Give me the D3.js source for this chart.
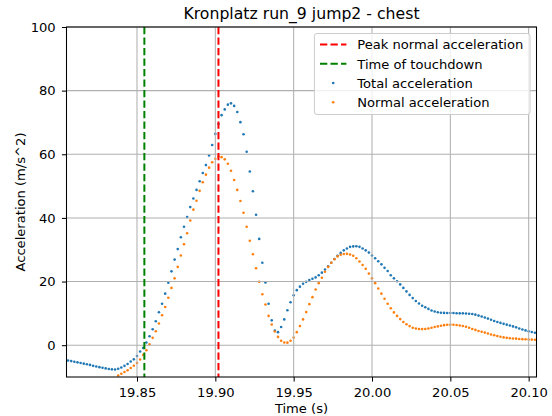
<!DOCTYPE html>
<html>
<head>
<meta charset="utf-8">
<script src="https://cdn.jsdelivr.net/npm/d3@7/dist/d3.min.js"></script>
<style>
  html, body { margin: 0; padding: 0; background: #ffffff; }
  svg { display: block; }
  text { font-family: "DejaVu Sans", sans-serif; fill: #000; }
</style>
</head>
<body>
<script>
// Chest sensor, Kronplatz run 9, jump 2 — sampled at 500 Hz
const startTime = 19.806;
const sampleRate = 500;

// Total acceleration magnitude (m/s^2)
const totalAcc = [
  -4.8, -5.0, -5.2, -5.4, -5.6, -5.8, -6.0, -6.2, -6.5, -6.7,
  -6.9, -7.1, -7.3, -7.5, -7.6, -7.65, -7.4, -7.0, -6.5, -5.9,
  -5.15, -4.45, -3.4, -2.0, -0.85, 0.85, 2.8, 5.0, 7.5, 10.35,
  13.0, 16.2, 19.6, 23.2, 26.9, 30.2, 33.9, 37.2, 40.3, 43.4,
  46.1, 48.8, 51.5, 54.1, 56.6, 59.6, 62.9, 66.4, 69.5, 72.3,
  74.1, 75.6, 76.0, 75.2, 73.3, 70.1, 66.3, 60.8, 54.6, 48.4,
  41.0, 33.4, 25.9, 19.7, 13.0, 7.8, 4.6, 4.1, 5.7, 8.1,
  11.0, 13.5, 15.7, 17.3, 18.4, 19.3, 19.9, 20.5, 20.9, 21.3,
  22.0, 22.8, 23.8, 24.8, 25.9, 27.1, 28.1, 29.0, 29.8, 30.4,
  30.9, 31.05, 31.1, 30.9, 30.4, 29.8, 29.1, 28.2, 27.3, 26.4,
  25.4, 24.3, 23.3, 22.0, 21.0, 20.1, 19.1, 18.0, 16.9, 15.8,
  14.8, 13.9, 13.1, 12.4, 11.9, 11.4, 10.9, 10.6, 10.35, 10.2,
  10.15, 10.1, 10.1, 10.1, 10.05, 10.0, 10.0, 9.95, 9.9, 9.8,
  9.6, 9.3, 9.0, 8.7, 8.35, 8.0, 7.6, 7.3, 7.0, 6.7,
  6.45, 6.2, 5.9, 5.6, 5.25, 4.95, 4.65, 4.4, 4.15, 3.9
];

// Normal acceleration component (m/s^2)
const normalAcc = [
  -15.8, -16.0, -16.1, -16.1, -16.0, -15.8, -15.5, -15.1, -14.6, -14.0,
  -13.4, -12.8, -12.1, -11.5, -10.9, -10.4, -9.55, -9.0, -8.45, -7.9,
  -7.15, -6.45, -5.6, -4.5, -3.05, -1.6, 0.3, 2.3, 4.4, 6.8,
  9.4, 12.0, 14.9, 18.0, 21.0, 24.6, 28.2, 31.7, 35.2, 39.2,
  42.6, 45.4, 48.5, 51.2, 53.6, 55.8, 57.5, 58.6, 59.3, 59.1,
  58.4, 57.0, 54.8, 51.9, 48.8, 45.3, 41.6, 37.2, 32.8, 28.6,
  24.2, 19.9, 16.0, 12.8, 9.2, 6.5, 4.3, 2.6, 1.4, 0.85,
  0.8, 1.4, 2.4, 4.1, 6.0, 8.1, 10.4, 12.9, 15.1, 17.5,
  19.5, 21.2, 23.1, 24.6, 25.9, 27.0, 27.9, 28.4, 28.65, 28.7,
  28.5, 28.1, 27.3, 26.3, 25.2, 24.0, 22.5, 21.0, 19.5, 17.8,
  16.2, 14.6, 13.0, 11.6, 10.3, 9.2, 8.2, 7.3, 6.6, 6.0,
  5.5, 5.25, 5.1, 5.05, 5.1, 5.25, 5.5, 5.7, 5.9, 6.1,
  6.3, 6.4, 6.4, 6.4, 6.35, 6.2, 6.05, 5.8, 5.5, 5.1,
  4.8, 4.45, 4.2, 3.95, 3.65, 3.35, 3.1, 2.85, 2.65, 2.45,
  2.3, 2.2, 2.1, 2.05, 1.95, 1.9, 1.85, 1.8, 1.75, 1.7
];

const touchdownTime = 19.8547;
const xTicks = [19.85, 19.90, 19.95, 20.00, 20.05, 20.10];
const yTicks = [0, 20, 40, 60, 80, 100];
const xDomain = [19.805, 20.105];
const yDomain = [-10, 100];

const legendItems = [
  { label: "Peak normal acceleration", kind: "line", color: "#ff0000" },
  { label: "Time of touchdown", kind: "line", color: "#008000" },
  { label: "Total acceleration", kind: "dot", color: "#1f77b4" },
  { label: "Normal acceleration", kind: "dot", color: "#ff7f0e" }
];

const times = totalAcc.map((_, i) => startTime + i / sampleRate);
const peakTime = times[d3.maxIndex(normalAcc)];

const W = 552, H = 416;
const box = { left: 66.5, right: 536.5, top: 27, bottom: 377 };
const fs = 13.1;
const grid = "#b0b0b0";
const dash = "7.3,3.2";

const x = d3.scaleLinear().domain(xDomain).range([box.left, box.right]);
const y = d3.scaleLinear().domain(yDomain).range([box.bottom, box.top]);

const svg = d3.select("body").append("svg")
  .attr("width", W).attr("height", H)
  .attr("viewBox", `0 0 ${W} ${H}`);

svg.append("rect").attr("width", W).attr("height", H).attr("fill", "#fff");

svg.append("defs").append("clipPath").attr("id", "plot-clip")
  .append("rect")
  .attr("x", box.left).attr("y", box.top)
  .attr("width", box.right - box.left).attr("height", box.bottom - box.top);

// scatter series (drawn under the grid)
const dots = svg.append("g").attr("clip-path", "url(#plot-clip)");
const series = [
  { values: totalAcc, color: "#1f77b4" },
  { values: normalAcc, color: "#ff7f0e" }
];
series.forEach(s => {
  dots.append("g").selectAll("circle")
    .data(s.values.map((v, i) => [times[i], v]))
    .join("circle")
    .attr("cx", d => x(d[0]))
    .attr("cy", d => y(d[1]))
    .attr("r", 1.3)
    .attr("fill", s.color);
});

// grid
const gridG = svg.append("g");
gridG.selectAll("line.gx").data(xTicks).join("line")
  .attr("x1", d => x(d)).attr("x2", d => x(d))
  .attr("y1", box.top).attr("y2", box.bottom)
  .attr("stroke", grid).attr("stroke-width", 1.05);
gridG.selectAll("line.gy").data(yTicks).join("line")
  .attr("x1", box.left).attr("x2", box.right)
  .attr("y1", d => y(d)).attr("y2", d => y(d))
  .attr("stroke", grid).attr("stroke-width", 1.05);

// event markers
const vlines = svg.append("g");
[[peakTime, "#ff0000"], [touchdownTime, "#008000"]].forEach(([t, c]) => {
  vlines.append("line")
    .attr("x1", x(t)).attr("x2", x(t))
    .attr("y1", box.top).attr("y2", box.bottom)
    .attr("stroke", c).attr("stroke-width", 2)
    .attr("stroke-dasharray", dash);
});

// axes
const xAxis = d3.axisBottom(x).tickValues(xTicks)
  .tickFormat(d3.format(".2f")).tickSize(4.6).tickPadding(6.0).tickSizeOuter(0);
const yAxis = d3.axisLeft(y).tickValues(yTicks)
  .tickFormat(d3.format("d")).tickSize(4.6).tickPadding(6.2).tickSizeOuter(0);

const gx = svg.append("g").attr("transform", `translate(0,${box.bottom})`).call(xAxis);
const gy = svg.append("g").attr("transform", `translate(${box.left},0)`).call(yAxis);
[gx, gy].forEach(g => {
  g.select(".domain").remove();
  g.selectAll(".tick line").attr("stroke", "#000").attr("stroke-width", 1.05);
  g.selectAll(".tick text")
    .style("font-family", '"DejaVu Sans", sans-serif')
    .style("font-size", fs + "px")
    .attr("fill", "#000");
});

// frame
svg.append("rect")
  .attr("x", box.left).attr("y", box.top)
  .attr("width", box.right - box.left).attr("height", box.bottom - box.top)
  .attr("fill", "none").attr("stroke", "#000").attr("stroke-width", 1.05);

// title and axis labels
svg.append("text")
  .attr("x", (box.left + box.right) / 2).attr("y", 18.8)
  .attr("text-anchor", "middle")
  .style("font-size", "15.7px")
  .text("Kronplatz run_9 jump2 - chest");

svg.append("text")
  .attr("x", (box.left + box.right) / 2).attr("y", 412.8)
  .attr("text-anchor", "middle")
  .style("font-size", fs + "px")
  .text("Time (s)");

svg.append("text")
  .attr("transform", `translate(25,${(box.top + box.bottom) / 2}) rotate(-90)`)
  .attr("text-anchor", "middle")
  .style("font-size", fs + "px")
  .text("Acceleration (m/s^2)");

// legend
const lg = svg.append("g");
const lgBox = { x: 314.4, y: 33.5, w: 530 - 314.4, h: 81 };
lg.append("rect")
  .attr("x", lgBox.x).attr("y", lgBox.y)
  .attr("width", lgBox.w).attr("height", lgBox.h)
  .attr("rx", 2.6).attr("ry", 2.6)
  .attr("fill", "#fff").attr("fill-opacity", 0.8)
  .attr("stroke", "#cccccc").attr("stroke-width", 1);

legendItems.forEach((it, i) => {
  const cy = 44.6 + i * 19.2;
  if (it.kind === "line") {
    lg.append("line")
      .attr("x1", 320).attr("x2", 346.4)
      .attr("y1", cy).attr("y2", cy)
      .attr("stroke", it.color).attr("stroke-width", 2)
      .attr("stroke-dasharray", dash);
  } else {
    lg.append("circle")
      .attr("cx", 333.2).attr("cy", cy).attr("r", 1.3)
      .attr("fill", it.color);
  }
  lg.append("text")
    .attr("x", 357.3).attr("y", cy + 4.7)
    .style("font-size", fs + "px")
    .text(it.label);
});
</script>
</body>
</html>
